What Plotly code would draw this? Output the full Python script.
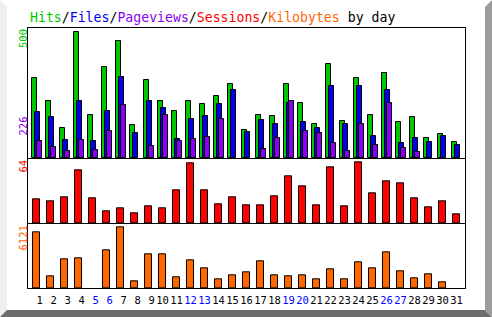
import plotly.graph_objects as go

W, H = 492, 317

days = list(range(1, 32))
weekend_days = [5, 6, 12, 13, 19, 20, 26, 27]
hits = [317, 226, 119, 500, 171, 361, 464, 131, 310, 226, 187, 226, 214, 246, 294, 111,
        171, 167, 294, 218, 135, 373, 147, 317, 171, 337, 143, 163, 79, 95, 63]
files = [183, 163, 71, 226, 67, 187, 321, 99, 226, 198, 75, 155, 167, 214, 270, 103,
         151, 135, 218, 143, 119, 286, 135, 286, 87, 270, 60, 79, 63, 87, 52]
pageviews = [67, 44, 28, 71, 32, 107, 210, 0, 48, 171, 67, 75, 83, 155, 0, 0,
             36, 79, 226, 107, 99, 60, 28, 135, 52, 218, 40, 24, 0, 0, 0]
sessions = [25, 23, 27, 56, 26, 13, 16, 11, 18, 16, 35, 63, 35, 20, 27, 19,
            19, 28, 49, 39, 19, 59, 18, 64, 31, 44, 42, 26, 17, 23, 9]
kilobytes = [5594, 1199, 2927, 3027, 0, 3826, 6121, 699, 3426, 3426, 1099, 2827, 2028, 899, 1329, 1628,
             2727, 1329, 1199, 1329, 929, 1928, 929, 2627, 2028, 3626, 1728, 1029, 1429, 629, 0]

GREEN, BLUE, PURPLE, RED, ORANGE = "#00C800", "#0000F0", "#8800F8", "#FF0000", "#FF6600"
MONO = "DejaVu Sans Mono"


def px(x):
    return x / W


def py(y):
    return 1 - y / H


def outline(vals):
    return dict(color="black", width=[1 if v > 0 else 0 for v in vals])


fig = go.Figure()
bw = 0.38
fig.add_trace(go.Bar(x=days, y=hits, width=bw, offset=-0.35, marker=dict(color=GREEN, line=outline(hits)),
                     xaxis="x", yaxis="y"))
fig.add_trace(go.Bar(x=days, y=files, width=bw, offset=-0.125, marker=dict(color=BLUE, line=outline(files)),
                     xaxis="x", yaxis="y"))
fig.add_trace(go.Bar(x=days, y=pageviews, width=bw, offset=0.02,
                     marker=dict(color=PURPLE, line=outline(pageviews)), xaxis="x", yaxis="y"))
fig.add_trace(go.Bar(x=days, y=sessions, width=0.55, marker=dict(color=RED, line=outline(sessions)),
                     xaxis="x2", yaxis="y2"))
fig.add_trace(go.Bar(x=days, y=kilobytes, width=0.55, marker=dict(color=ORANGE, line=outline(kilobytes)),
                     xaxis="x3", yaxis="y3"))

ticktext = []
for d in days:
    s = str(d) if d >= 10 else "\u00a0" + str(d)
    if d in weekend_days:
        s = '<span style="color:#0000FF">%s</span>' % s
    ticktext.append(s)

xdom = [px(28), px(465.3)]
xr = [0.393, 31.63]
common_x = dict(domain=xdom, range=xr, showgrid=False, zeroline=False, showline=True,
                linecolor="black", linewidth=1, ticks="", fixedrange=True)

y1b, y1t = 158.3, 28.0
y2b, y2t = 223.3, 158.3
y3b, y3t = 288.3, 223.3


def yax(anchor, dom, rng):
    return dict(showgrid=False, zeroline=False, showline=True, mirror=True, linecolor="black",
                linewidth=1, showticklabels=False, ticks="", anchor=anchor, domain=dom, range=rng)


fig.update_layout(
    width=W, height=H,
    margin=dict(l=0, r=0, t=0, b=0),
    paper_bgcolor="white", plot_bgcolor="white",
    showlegend=False, barmode="overlay", bargap=0,
    xaxis=dict(**common_x, anchor="y", mirror=True, showticklabels=False),
    xaxis2=dict(**common_x, anchor="y2", mirror=False, showticklabels=False, matches="x"),
    xaxis3=dict(**common_x, anchor="y3", mirror=False, showticklabels=True, matches="x",
                tickmode="array", tickvals=days, ticktext=ticktext, tickangle=0,
                tickfont=dict(family=MONO, size=10.5, color="black"), automargin=False,
                ticklabelstandoff=2),
    yaxis=yax("x", [py(y1b), py(y1t)], [0, 517]),
    yaxis2=yax("x2", [py(y2b), py(y2t)], [0, 68.2]),
    yaxis3=yax("x3", [py(y3b), py(y3t)], [0, 6490]),
)

# Title
title_html = ('<span style="color:%s">Hits</span>/<span style="color:%s">Files</span>/'
              '<span style="color:%s">Pageviews</span>/<span style="color:%s">Sessions</span>/'
              '<span style="color:%s">Kilobytes</span> by day') % (GREEN, BLUE, PURPLE, RED, ORANGE)
fig.add_annotation(text=title_html, xref="paper", yref="paper", x=px(27.5), y=py(17.5),
                   xanchor="left", yanchor="middle", showarrow=False,
                   font=dict(family=MONO, size=13.2, color="black"))

# Rotated max labels
for txt, col, yc in [(str(max(hits)), GREEN, 38.5), (str(max(pageviews)), PURPLE, 126),
                     (str(max(sessions)), RED, 166), (str(max(kilobytes)), ORANGE, 238)]:
    fig.add_annotation(text=txt, xref="paper", yref="paper", x=px(22.5), y=py(yc),
                       xanchor="center", yanchor="middle", showarrow=False, textangle=-90,
                       font=dict(family=MONO, size=10.5, color=col))


def path(points):
    return "M " + " L ".join("%f,%f" % (px(a), py(b)) for a, b in points) + " Z"


shapes = [
    dict(type="path", path=path([(0, 0), (7, 7), (7, 310), (0, 317)]), fillcolor="#EFEFEF"),
    dict(type="path", path=path([(0, 317), (7, 310), (485, 310), (492, 317)]), fillcolor="#6E6E6E"),
    dict(type="path", path=path([(492, 0), (485, 7), (485, 310), (492, 317)]), fillcolor="#9C9C9C"),
]
for s in shapes:
    s.update(xref="paper", yref="paper", line=dict(width=0), layer="above")
fig.update_layout(shapes=shapes)

fig.write_html("out.html")
